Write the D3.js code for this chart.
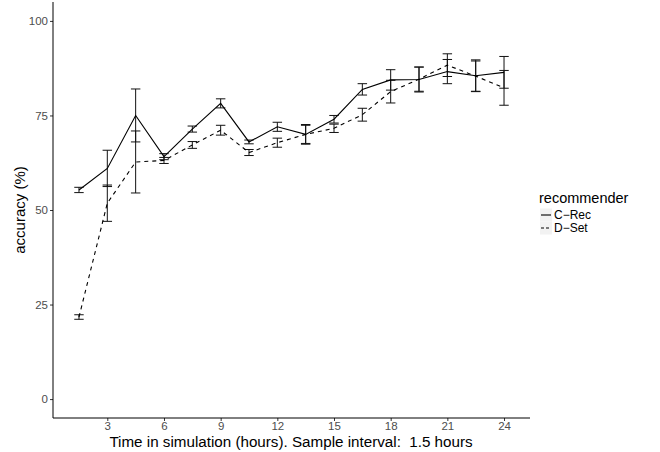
<!DOCTYPE html>
<html>
<head>
<meta charset="utf-8">
<style>
  body { margin: 0; background: #fff; }
  svg { font-family: "Liberation Sans", Arial, sans-serif; }
  .tick text { fill: #4d4d4d; font-size: 11.5px; }
  .tick line { stroke: #333; }
</style>
</head>
<body>
<script src="https://cdn.jsdelivr.net/npm/d3@7/dist/d3.min.js"></script>
<svg width="660" height="452"></svg>
<script>
// sample times (hours)
var hours = [1.5, 3, 4.5, 6, 7.5, 9, 10.5, 12, 13.5, 15, 16.5, 18, 19.5, 21, 22.5, 24];
// C-Rec
var crecMean = [55.3, 61.0, 75.0, 64.1, 71.4, 78.2, 68.0, 72.0, 70.0, 74.0, 81.9, 84.4, 84.5, 86.6, 85.5, 86.4];
var crecErr  = [0.7, 4.8, 7.0, 0.8, 0.8, 1.2, 0.5, 1.2, 2.6, 1.0, 1.5, 2.7, 3.3, 3.2, 4.2, 4.2];
// D-Set
var dsetMean = [21.7, 51.8, 62.7, 63.1, 67.2, 71.1, 65.2, 67.8, 70.0, 71.6, 75.2, 81.3, 84.6, 88.3, 85.4, 82.3];
var dsetErr  = [0.6, 4.8, 8.2, 0.8, 0.9, 1.3, 0.8, 1.2, 2.4, 1.1, 1.7, 3.0, 3.2, 3.0, 4.0, 4.6];

var xTicks = [3, 6, 9, 12, 15, 18, 21, 24];
var yTicks = [0, 25, 50, 75, 100];
var groups = ["C\u2212Rec", "D\u2212Set"];
var dashes = [null, "4,4"];

var svg = d3.select("svg");

var x = d3.scaleLinear().domain([0.125, 25.375]).range([53, 530]);
var y = d3.scaleLinear().domain([-5, 105]).range([418, 2]);

var series = [
  { name: groups[0], mean: crecMean, err: crecErr, dash: dashes[0] },
  { name: groups[1], mean: dsetMean, err: dsetErr, dash: dashes[1] }
];

// axes
var xAxis = svg.append("g")
  .attr("transform", "translate(0,418)")
  .call(d3.axisBottom(x).tickValues(xTicks).tickSize(3).tickPadding(1));
xAxis.select(".domain").remove();

var yAxis = svg.append("g")
  .attr("transform", "translate(53,0)")
  .call(d3.axisLeft(y).tickValues(yTicks).tickSize(3).tickPadding(2));
yAxis.select(".domain").remove();

svg.append("line")
  .attr("x1", 53).attr("x2", 530).attr("y1", 418).attr("y2", 418)
  .attr("stroke", "#000").attr("stroke-width", 1);
svg.append("line")
  .attr("x1", 53).attr("x2", 53).attr("y1", 2).attr("y2", 418)
  .attr("stroke", "#000").attr("stroke-width", 1);

// error bars
var capHalf = (x(0.25) - x(0));
series.forEach(function(s) {
  var g = svg.append("g").attr("stroke", "#111").attr("stroke-width", 1).attr("fill", "none");
  hours.forEach(function(h, i) {
    var top = y(s.mean[i] + s.err[i]), bot = y(s.mean[i] - s.err[i]), cx = x(h);
    g.append("line").attr("x1", cx).attr("x2", cx).attr("y1", top).attr("y2", bot);
    g.append("line").attr("x1", cx - capHalf).attr("x2", cx + capHalf).attr("y1", top).attr("y2", top);
    g.append("line").attr("x1", cx - capHalf).attr("x2", cx + capHalf).attr("y1", bot).attr("y2", bot);
  });
});

// lines
var line = d3.line()
  .x(function(d) { return x(d[0]); })
  .y(function(d) { return y(d[1]); });

series.forEach(function(s) {
  svg.append("path")
    .datum(hours.map(function(h, i) { return [h, s.mean[i]]; }))
    .attr("d", line)
    .attr("fill", "none")
    .attr("stroke", "#000")
    .attr("stroke-width", 1.1)
    .attr("stroke-dasharray", s.dash);
});

// axis titles
svg.append("text")
  .attr("x", 291).attr("y", 446.5)
  .attr("text-anchor", "middle")
  .attr("xml:space", "preserve")
  .style("white-space", "pre")
  .style("font-size", "15.2px")
  .text("Time in simulation (hours). Sample interval:  1.5 hours");

svg.append("text")
  .attr("transform", "translate(25,210) rotate(-90)")
  .attr("text-anchor", "middle")
  .style("font-size", "15px")
  .text("accuracy (%)");

// legend
var leg = svg.append("g").attr("transform", "translate(539,0)");
leg.append("text").attr("x", 0).attr("y", 203)
  .style("font-size", "14.5px").text("recommender");
series.forEach(function(s, i) {
  var cy = 215 + i * 13;
  leg.append("rect").attr("x", 1).attr("y", cy - 6.5).attr("width", 12).attr("height", 13)
    .attr("fill", "#f2f2f2");
  leg.append("line").attr("x1", 2).attr("x2", 12).attr("y1", cy).attr("y2", cy)
    .attr("stroke", "#000").attr("stroke-width", 1.1)
    .attr("stroke-dasharray", s.dash ? "3,2" : null);
  leg.append("text").attr("x", 15).attr("y", cy + 4)
    .style("font-size", "12px").text(s.name);
});
</script>
</body>
</html>
